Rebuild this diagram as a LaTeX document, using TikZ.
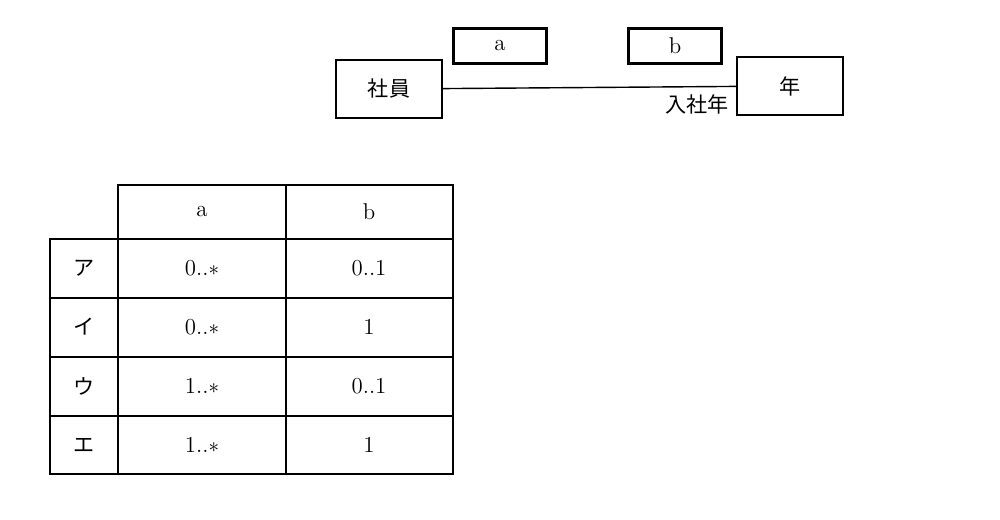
\documentclass[tikz,border=0pt]{standalone}
\usepackage{fontspec}
\newfontfamily\jp{Noto Sans CJK JP}
\begin{document}
\begin{tikzpicture}
		[x=0.02cm,y=-0.02cm,
		%Styles
		class box/.style={draw,thick,minimum width=2.12cm,minimum height=1.16cm,inner sep=0pt,font=\jp\fontsize{12}{14}\selectfont},
		blank box/.style={draw,line width=2pt,minimum width=1.86cm,minimum height=0.7cm,inner sep=0pt,font=\fontsize{13}{15}\selectfont},
		cell/.style={font=\fontsize{13}{15}\selectfont},
		jp cell/.style={font=\jp\fontsize{12}{14}\selectfont}
		]
		\useasboundingbox (0,0) rectangle (1000,520);
		
		%The graphic
		\node[class box] (E) at (389, 89) {社員};
		\node[class box] (Y) at (790, 86) {年};
		\node[blank box] (A) at (500, 46) {a};
		\node[blank box] (B) at (675, 46) {b};
		\draw[thick] (E) -- (Y);
		\node[jp cell, anchor=east] (R) at (735, 104) {入社年};
		
		%Table
		\draw[thick] (118,185) rectangle (453,474);
		\draw[thick] (50,239) rectangle (118,474);
		\foreach \y in {239,298,357,416}
			\draw[thick] (50,\y) -- (453,\y);
		\draw[thick] (286,185) -- (286,474);
		
		\node[cell] (ha) at (202,212) {a};
		\node[cell] (hb) at (369,212) {b};
		\foreach \k/\a/\b [count=\i from 0] in {ア/0..$\ast$/0..1, イ/0..$\ast$/1, ウ/1..$\ast$/0..1, エ/1..$\ast$/1}
		{
			\node[jp cell] (k\i) at (84,268+59*\i) {\k};
			\node[cell] (a\i) at (202,268+59*\i) {\a};
			\node[cell] (b\i) at (369,268+59*\i) {\b};
		}
	\end{tikzpicture}
\end{document}
